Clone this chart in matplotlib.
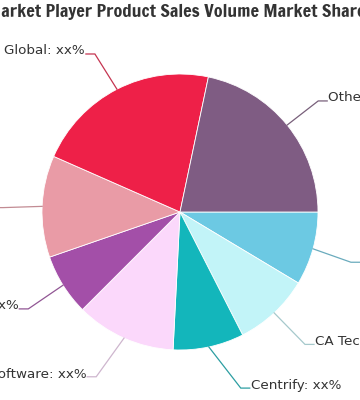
import numpy as np
import matplotlib
matplotlib.use('Agg')
import matplotlib.pyplot as plt
from matplotlib.colors import to_rgb

# slices in clockwise order starting at 3 o'clock
labels = ['CyberArk: xx%', 'CA Technologies: xx%', 'Centrify: xx%', 'Quest Software: xx%',
          'Thycotic: xx%', 'BeyondTrust: xx%', 'Global: xx%', 'Others: xx%']
shares = [8.6, 8.9, 8.3, 11.7, 7.2, 11.9, 21.7, 21.7]
colors = ['#6cc9e3', '#c2f4f8', '#13b6bb', '#fbd8fb', '#a34fa8', '#e99ba6', '#ee2048', '#7f5c83']
title = 'Market Player Product Sales Volume Market Shares'

W, H = 360, 400
cx, cy, r = 180, 212, 138

fig = plt.figure(figsize=(W / 100, H / 100), dpi=100)
ax = fig.add_axes([0, 0, 1, 1])
ax.pie(shares, colors=colors, startangle=0, counterclock=True, center=(cx, cy), radius=r,
       wedgeprops=dict(edgecolor='white', linewidth=0.6))
ax.set_xlim(0, W)
ax.set_ylim(H, 0)
ax.set_aspect('equal')
ax.axis('off')

# labels with connectors, highcharts style
ang = np.cumsum(shares) - np.array(shares) / 2
ang = np.deg2rad(ang / sum(shares) * 360)
for lab, a, c in zip(labels, ang, colors):
    ex, ey = cx + r * np.cos(a), cy + r * np.sin(a)
    dy = (181 if np.sin(a) < 0 else 177) * np.sin(a)
    dx = np.sqrt(max(187 ** 2 - dy ** 2, 0))
    side = 1 if np.cos(a) >= 0 else -1
    lx, ly = cx + side * dx, cy + dy
    lc = 0.7 * np.array(to_rgb(c)) + 0.3 * np.array(to_rgb('#666666'))
    ax.plot([ex, lx - side * 10, lx - side * 1], [ey, ly + 3, ly + 3], color=lc, lw=0.9,
            solid_joinstyle='miter', zorder=1)
    ax.text(lx, ly, lab, ha='left' if side > 0 else 'right', va='center',
            fontsize=9.7, color='#333333', family='DejaVu Sans')

fig.text(0.5, 1 - 12 / H, title, ha='center', va='center', fontsize=13,
         color='#333333', family=['Francois One', 'DejaVu Sans'])

fig.savefig('out.png', dpi=100, facecolor='white')
